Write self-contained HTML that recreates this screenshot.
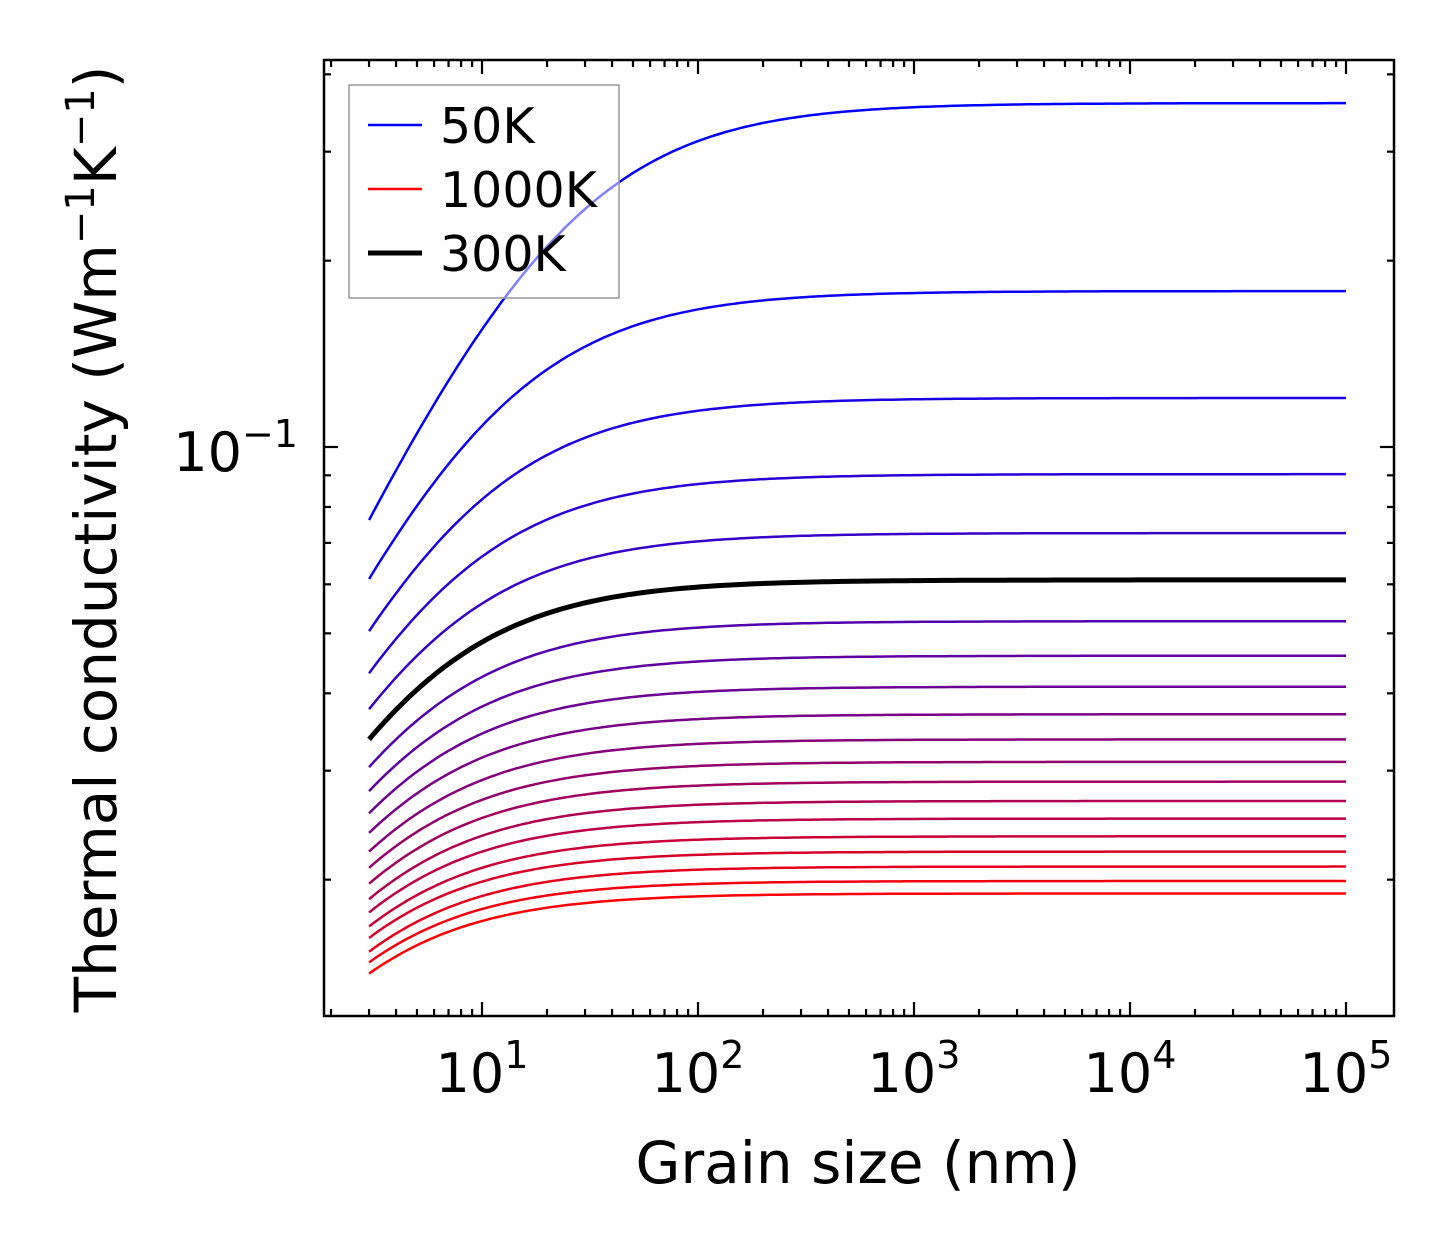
<!DOCTYPE html>
<html><head><meta charset="utf-8"><style>
html,body{margin:0;padding:0;background:#fff;}
svg{display:block;font-family:"DejaVu Sans","Liberation Sans",sans-serif;}
</style></head><body>
<svg id="chart" width="1454" height="1254" viewBox="0 0 1454 1254" xmlns="http://www.w3.org/2000/svg">
<rect width="1454" height="1254" fill="#fff"/>
<g id="curves"></g>
<g id="ticks"></g>
<rect x="324" y="60" width="1070" height="956" fill="none" stroke="#000" stroke-width="2.5"/>
<g>
<rect x="349" y="85" width="270" height="213" fill="#fff" fill-opacity="0.5" stroke="#999" stroke-width="1.5"/>
<line x1="368" y1="125" x2="422" y2="125" stroke="#0000ff" stroke-width="2.5"/>
<text x="440" y="143" font-size="49">50K</text>
<line x1="368" y1="189" x2="422" y2="189" stroke="#ff0000" stroke-width="2.5"/>
<text x="440" y="207" font-size="49">1000K</text>
<line x1="368" y1="253" x2="422" y2="253" stroke="#000" stroke-width="5"/>
<text x="440" y="271" font-size="49">300K</text>
</g>
<text x="858" y="1183" font-size="58" text-anchor="middle">Grain size (nm)</text>
<text transform="translate(116,539) rotate(-90)" font-size="58" text-anchor="middle">Thermal conductivity (Wm<tspan font-size="40" dy="-22">−1</tspan><tspan dy="22">K</tspan><tspan font-size="40" dy="-22">−1</tspan><tspan dy="22">)</tspan></text>
</svg>
<script>
const temps = [50,100,150,200,250,300,350,400,450,500,550,600,650,700,750,800,850,900,950,1000];
const kAt3nm = [0.0762,0.0612,0.0504,0.0431,0.0377,0.0337,0.0304,0.0278,0.0256,0.0238,0.0222,0.0209,0.0197,0.0186,0.0177,0.0168,0.0161,0.0153,0.0147,0.0141];
const kBulk = [0.3594,0.1786,0.1200,0.0904,0.0726,0.0610,0.0523,0.0460,0.0410,0.0370,0.0337,0.0310,0.0288,0.0268,0.0251,0.0235,0.0222,0.0210,0.0199,0.0190];
const xTickLabels = ["1","2","3","4","5"];
const yMajorTicks = [-1];

const NS = "http://www.w3.org/2000/svg";
const X0=482, XD=216, Y0=447, YD=619;
const xs = L => X0 + XD*(Math.log10(L)-1);
const ys = k => Y0 - YD*(Math.log10(k)+1);
const curves = document.getElementById('curves');
const P = 0.75;
temps.forEach((t,i)=>{
  const r = kBulk[i]/kAt3nm[i];
  const a = 3*(Math.pow(r,1/P)-1);
  let d="";
  for(let j=0;j<=200;j++){
    const L = 3*Math.pow(1e5/3, j/200);
    const k = kBulk[i]/Math.pow(1+a/L,P);
    d += (j?"L":"M")+xs(L).toFixed(1)+","+ys(k).toFixed(1);
  }
  const f = i/(temps.length-1);
  const col = t===300 ? "#000" : `rgb(${Math.round(255*f)},0,${Math.round(255*(1-f))})`;
  const p = document.createElementNS(NS,'path');
  p.setAttribute('d',d);
  p.setAttribute('fill','none');
  p.setAttribute('stroke',col);
  p.setAttribute('stroke-width', t===300?5:2.5);
  
  
  curves.appendChild(p);
});
const tk = document.getElementById('ticks');
function line(x1,y1,x2,y2,name){
  const l=document.createElementNS(NS,'line');
  l.setAttribute('x1',x1);l.setAttribute('y1',y1);l.setAttribute('x2',x2);l.setAttribute('y2',y2);
  l.setAttribute('stroke','#000');l.setAttribute('stroke-width',2.2);
  
  
  tk.appendChild(l);
}
const TOP=60,BOT=1016,LEFT=324,RIGHT=1394;
for(let e=0;e<=5;e++){
  for(let m=1;m<=9;m++){
    const x=xs(m*Math.pow(10,e));
    if(x<LEFT||x>RIGHT) continue;
    const len = m===1?14:7;
    line(x,BOT,x,BOT-len,'x-tick');
    line(x,TOP,x,TOP+len,'x-tick-top');
  }
}
xTickLabels.forEach(lbl=>{
  const x=xs(Math.pow(10,+lbl));
  const t=document.createElementNS(NS,'text');
  t.setAttribute('x',x);t.setAttribute('y',1092);t.setAttribute('font-size','54');t.setAttribute('text-anchor','middle');
  t.innerHTML='10<tspan font-size="38" dy="-24">'+lbl+'</tspan>';
  
  
  tk.appendChild(t);
});
for(let e=-2;e<=-1;e++){
  for(let m=1;m<=9;m++){
    const y=ys(m*Math.pow(10,e));
    if(y<TOP||y>BOT) continue;
    const len = m===1?14:7;
    line(LEFT,y,LEFT+len,y,'y-tick');
    line(RIGHT,y,RIGHT-len,y,'y-tick-right');
  }
}
yMajorTicks.forEach(e=>{
  const t=document.createElementNS(NS,'text');
  t.setAttribute('x',298);t.setAttribute('y',ys(Math.pow(10,e))+24);t.setAttribute('font-size','54');t.setAttribute('text-anchor','end');
  t.innerHTML='10<tspan font-size="38" dy="-24">−1</tspan>';
  
  
  tk.appendChild(t);
});
</script>
</body></html>
